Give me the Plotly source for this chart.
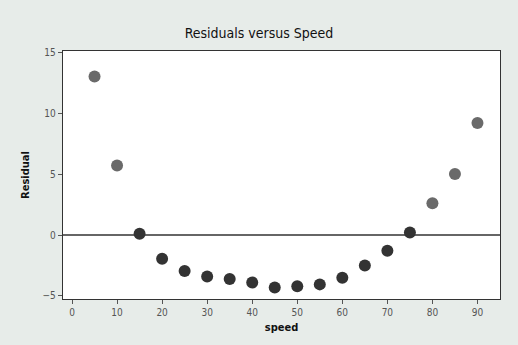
import plotly.graph_objects as go

speed = [5, 10, 15, 20, 25, 30, 35, 40, 45, 50, 55, 60, 65, 70, 75, 80, 85, 90]
residual = [13.0, 5.7, 0.1, -1.95, -2.95, -3.4, -3.6, -3.9, -4.3, -4.2, -4.05, -3.5, -2.5, -1.3, 0.2, 2.6, 5.0, 9.2]
colors = ["#6a6a6a" if r > 1 else "#333333" for r in residual]
xticks = [0, 10, 20, 30, 40, 50, 60, 70, 80, 90]
yticks = [-5, 0, 5, 10, 15]

fig = go.Figure()
fig.add_trace(go.Scatter(x=speed, y=residual, mode="markers",
                         marker=dict(size=12, color=colors, line=dict(width=0))))
fig.add_hline(y=0, line=dict(color="#333333", width=1.4), layer="below")

fig.update_layout(
    width=518, height=345,
    margin=dict(l=63, r=18, t=51, b=46),
    paper_bgcolor="#e7ece9", plot_bgcolor="#ffffff",
    showlegend=False,
    title=dict(text="Residuals versus Speed", x=0.5, xanchor="center", y=0.905, yanchor="middle",
               font=dict(family="DejaVu Sans Condensed, DejaVu Sans", size=14, color="#111111")),
    font=dict(family="DejaVu Sans Condensed, DejaVu Sans", size=10, color="#555555"),
)
fig.update_xaxes(range=[-2, 95], tickvals=xticks, ticks="outside", ticklen=4, tickcolor="#555555",
                 showgrid=False, zeroline=False, showline=True, linecolor="#333333", linewidth=1.4, mirror=True,
                 title=dict(text="<b>speed</b>", standoff=6, font=dict(size=11, color="#111111")))
fig.update_yaxes(range=[-5.25, 15.1], tickvals=yticks, ticks="outside", ticklen=4, tickcolor="#555555",
                 showgrid=False, zeroline=False, showline=True, linecolor="#333333", linewidth=1.4, mirror=True,
                 title=dict(text="<b>Residual</b>", standoff=10, font=dict(size=11, color="#111111")))

fig.write_html("out.html")
